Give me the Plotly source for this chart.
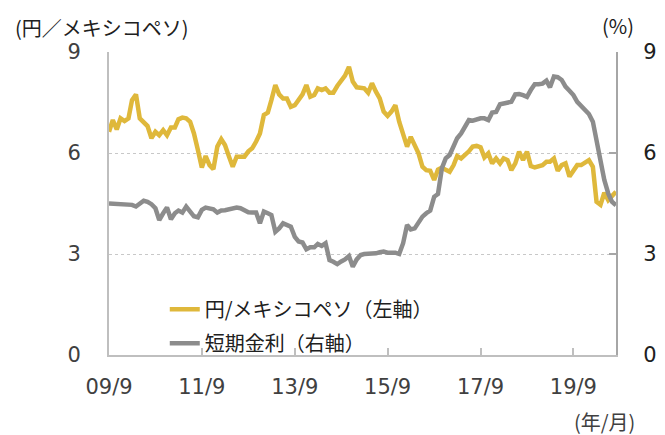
import pandas as pd
import plotly.graph_objects as go

# Monthly data from 2009/9
start_month = "2009-09-01"

jpy_mxn = [
    6.63, 6.98, 6.70, 7.03, 6.95, 7.03, 7.57, 7.74, 7.03, 6.90,
    6.80, 6.44, 6.63, 6.53, 6.68, 6.53, 6.76, 6.76, 7.00, 7.05,
    7.03, 6.93, 6.58, 6.09, 5.57, 5.91, 5.64, 5.52, 6.19, 6.41,
    6.24, 5.90, 5.59, 5.89, 5.88, 5.89, 6.05, 6.14, 6.34, 6.58,
    7.13, 7.20, 7.57, 8.02, 7.74, 7.62, 7.62, 7.37, 7.42, 7.58,
    7.74, 8.02, 7.67, 7.72, 7.92, 7.87, 7.92, 7.79, 7.79, 7.99,
    8.15, 8.30, 8.56, 8.12, 7.95, 7.92, 7.92, 7.79, 8.07, 7.82,
    7.62, 7.23, 7.10, 7.23, 7.42, 6.93, 6.58, 6.19, 6.48, 6.24,
    5.99, 5.59, 5.49, 5.47, 5.20, 5.51, 5.57, 5.50, 5.44, 5.64,
    5.91, 5.84, 5.94, 6.05, 6.19, 6.21, 6.17, 5.87, 5.99, 5.69,
    5.84, 5.69, 5.84, 5.79, 5.49, 5.69, 6.04, 5.79, 6.04, 5.61,
    5.57, 5.60, 5.64, 5.74, 5.74, 5.84, 5.47, 5.64, 5.69, 5.30,
    5.49, 5.64, 5.64, 5.72, 5.79, 5.59, 4.55, 4.46, 4.82, 4.60,
    4.75, 4.85,
]

short_rate = [
    4.50, 4.49, 4.48, 4.48, 4.48, 4.47, 4.46, 4.41, 4.50, 4.58,
    4.55, 4.48, 4.36, 4.01, 4.21, 4.38, 4.03, 4.21, 4.29, 4.23,
    4.41, 4.26, 4.12, 4.09, 4.31, 4.38, 4.37, 4.33, 4.23, 4.29,
    4.30, 4.33, 4.36, 4.38, 4.36, 4.30, 4.24, 4.23, 4.23, 3.91,
    4.26, 4.21, 4.16, 3.66, 3.76, 3.91, 3.86, 3.81, 3.51, 3.37,
    3.34, 3.14, 3.20, 3.20, 3.30, 3.24, 3.32, 2.82, 2.77, 2.70,
    2.78, 2.84, 2.94, 2.62, 2.84, 2.97, 3.00, 3.00, 3.00, 3.02,
    3.05, 3.07, 3.04, 3.04, 3.04, 3.00, 3.32, 3.86, 3.73, 3.76,
    3.95, 4.11, 4.21, 4.29, 4.70, 4.78, 5.55, 5.84, 5.94, 6.19,
    6.44, 6.58, 6.78, 6.98, 6.96, 7.00, 7.03, 7.03, 6.98, 7.20,
    7.22, 7.45, 7.48, 7.49, 7.52, 7.74, 7.75, 7.72, 7.67, 7.87,
    8.04, 8.04, 8.06, 8.15, 7.95, 8.27, 8.25, 8.17, 7.97, 7.85,
    7.72, 7.52, 7.40, 7.30, 7.16, 6.93, 6.39, 5.79, 5.20, 4.80,
    4.55, 4.45,
]

tick_dates = ["2009-09-01", "2011-09-01", "2013-09-01", "2015-09-01", "2017-09-01", "2019-09-01"]
tick_labels = ["09/9", "11/9", "13/9", "15/9", "17/9", "19/9"]
y_ticks = [0, 3, 6, 9]

series_names = ["円/メキシコペソ（左軸）", "短期金利（右軸）"]

dates = pd.date_range(start_month, periods=len(jpy_mxn), freq="MS")

YELLOW = "#DFB83B"
GRAY = "#8C8C8C"
AXIS = "#BFBFBF"
TEXT = "#404040"
NUM_FONT = "DejaVu Sans"
JP_FONT = "Noto Sans CJK JP"

fig = go.Figure()
fig.add_trace(go.Scatter(
    x=dates, y=jpy_mxn, name=series_names[0], mode="lines",
    line=dict(color=YELLOW, width=4.5), yaxis="y", legendgroup="a",
))
fig.add_trace(go.Scatter(
    x=dates, y=short_rate[:len(dates)], name=series_names[1], mode="lines",
    line=dict(color=GRAY, width=4.5), yaxis="y2", legendgroup="b",
))

fig.update_layout(
    width=657, height=427,
    margin=dict(l=101, r=49, t=44, b=80, autoexpand=False),
    paper_bgcolor="white", plot_bgcolor="white",
    font=dict(family=NUM_FONT, size=21, color=TEXT),
    showlegend=True,
    legend=dict(
        x=0.11, y=0.215, xanchor="left", yanchor="top",
        bgcolor="rgba(0,0,0,0)", borderwidth=0,
        font=dict(family=JP_FONT, size=20, color="#202020"),
        tracegroupgap=5,
    ),
    xaxis=dict(
        type="date", automargin=False,
        range=[dates[0], dates[-1]],
        tickvals=tick_dates, ticktext=tick_labels,
        ticks="inside", ticklen=7, tickcolor=AXIS, tickwidth=1.5,
        showline=True, linecolor=AXIS, linewidth=2,
        showgrid=False, zeroline=False,
        tickfont=dict(family=NUM_FONT, size=21, color=TEXT),
        ticklabelstandoff=12,
    ),
    yaxis=dict(
        range=[0, 9], tickvals=y_ticks, automargin=False,
        showline=True, linecolor=AXIS, linewidth=2,
        showgrid=True, gridcolor="#C8C8C8", griddash="dot", gridwidth=1,
        zeroline=False, ticks="",
        tickfont=dict(family=NUM_FONT, size=21, color=TEXT),
        ticklabelstandoff=22,
    ),
    yaxis2=dict(
        range=[0, 9], tickvals=y_ticks, overlaying="y", side="right", automargin=False,
        showline=True, linecolor="#A6A6A6", linewidth=2,
        showgrid=False, zeroline=False,
        ticks="inside", ticklen=7, tickcolor="#A6A6A6", tickwidth=2,
        tickfont=dict(family=NUM_FONT, size=21, color="#202020"),
        ticklabelstandoff=21,
    ),
    annotations=[
        dict(text="(円／メキシコペソ)", xref="paper", yref="paper",
             x=0.0, y=1.0, xanchor="left", yanchor="middle", xshift=-96, yshift=25,
             showarrow=False, font=dict(family=JP_FONT, size=20, color="#202020")),
        dict(text="(%)", xref="paper", yref="paper",
             x=1.0, y=1.0, xanchor="left", yanchor="middle", xshift=-16, yshift=27,
             showarrow=False, font=dict(family=JP_FONT, size=20, color="#202020")),
        dict(text="(年/月)", xref="paper", yref="paper",
             x=1.0, y=0.0, xanchor="right", yanchor="middle", xshift=21, yshift=-66,
             showarrow=False, font=dict(family=JP_FONT, size=20, color=TEXT)),
    ],
)

fig.write_html("out.html")
